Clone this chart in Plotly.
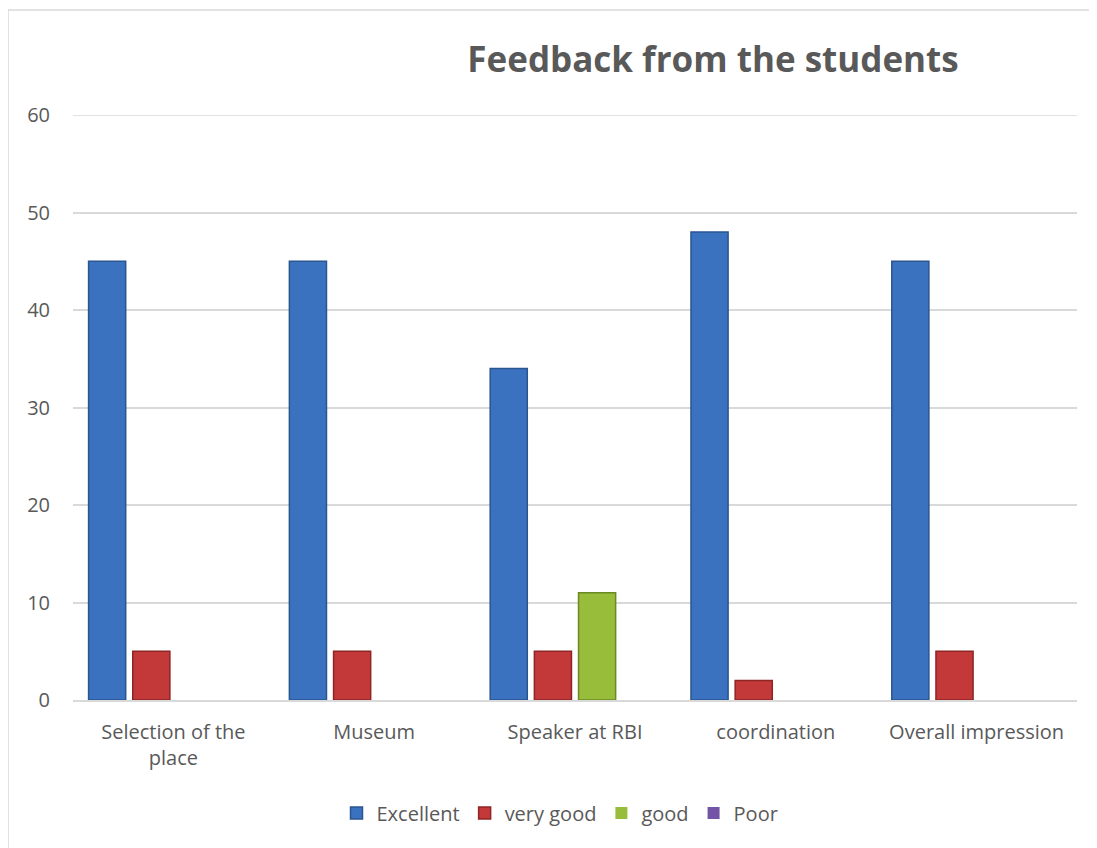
import plotly.graph_objects as go

categories = ["Selection of the<br>place", "Museum", "Speaker at RBI", "coordination", "Overall impression"]
excellent = [45, 45, 34, 48, 45]
very_good = [5, 5, 5, 2, 5]
good = [0, 0, 11, 0, 0]
poor = [0, 0, 0, 0, 0]
y_max = 60

series = [
    ("Excellent", excellent, "#3a72bf", "#2a5590"),
    ("very good", very_good, "#c3393a", "#8e2424"),
    ("good", good, "#97bd3a", "#6b8a24"),
    ("Poor", poor, "#7354a6", "#523a7c"),
]

OFF = 8  # default page body margin
W, H = 1097 - 2 * OFF, 848 - OFF
ml, mt = 73 - OFF, 115 - OFF
mr = W - (1077 - OFF)
mb = H - (700 - OFF)

fig = go.Figure()
for name, vals, col, edge in series:
    fig.add_trace(go.Bar(
        x=categories, y=vals, name=name,
        marker=dict(color=col,
                    line=dict(color=edge, width=[1.5 if v else 0 for v in vals])),
    ))

pw = W - ml - mr
ph = H - mt - mb

fig.update_layout(
    width=W, height=H,
    margin=dict(l=ml, r=mr, t=mt, b=mb),
    paper_bgcolor="white", plot_bgcolor="white",
    barmode="group", bargap=0.12, bargroupgap=0.16,
    font=dict(family="Open Sans", color="#595959", size=20),
    title=dict(text="<b>Feedback from the students</b>", x=(713 - OFF) / W, xanchor="center",
               y=1 - (60 - OFF) / H, yanchor="middle",
               font=dict(family="Open Sans", size=35, color="#595959")),
    legend=dict(orientation="h", x=(560 - ml - OFF) / pw, xanchor="center",
                y=-(813 - 700) / ph, yanchor="middle",
                font=dict(size=20, color="#595959"),
                itemwidth=30, traceorder="normal"),
    xaxis=dict(showgrid=False, showline=True, linecolor="#d9d9d9", linewidth=2,
               ticks="", ticklabelstandoff=13, tickfont=dict(size=20, color="#595959")),
    yaxis=dict(range=[0, y_max], dtick=10, showgrid=True, gridcolor="#d9d9d9", gridwidth=1.5,
               zeroline=False, showline=False, ticks="", ticklabelstandoff=22,
               tickfont=dict(size=20, color="#595959")),
)

# top gridline (at the range edge)
fig.add_shape(type="line", xref="paper", yref="y", x0=0, x1=1, y0=y_max, y1=y_max,
              line=dict(color="#d9d9d9", width=1.5), layer="below")

# outer chart frame: left and top edges visible in the reference
fx0 = (8 - OFF - ml) / pw
fy1 = 1 + (mt - (10 - OFF)) / ph
fig.add_shape(type="line", xref="paper", yref="paper",
              x0=fx0, x1=fx0, y0=-(mb + 10) / ph, y1=fy1,
              line=dict(color="#d9d9d9", width=1.5), layer="below")
fig.add_shape(type="line", xref="paper", yref="paper",
              x0=fx0, x1=(W + 10 - ml) / pw, y0=fy1, y1=fy1,
              line=dict(color="#d9d9d9", width=1.5), layer="below")

fig.write_html("out.html")
